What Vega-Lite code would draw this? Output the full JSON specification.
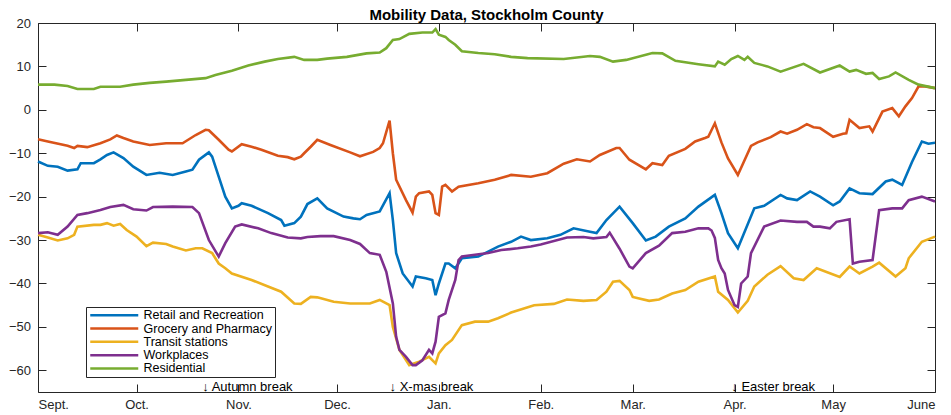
{
"$schema":"https://vega.github.io/schema/vega-lite/v6.json",
"width":897,"height":369,
"autosize":{"type":"none"},
"padding":{"left":38,"top":23,"right":16,"bottom":23},
"background":"white",
"title":{"text":"Mobility Data, Stockholm County","font":"Liberation Sans","fontSize":15,"fontWeight":"bold","color":"#000000","offset":-6,"frame":"group","anchor":"middle"},
"config":{
 "view":{"stroke":"#262626","strokeWidth":1},
 "axis":{"domain":false,"grid":false,"ticks":true,"tickSize":-8,"tickColor":"#262626","tickWidth":1,"labelFont":"Liberation Sans","labelFontSize":13,"labelColor":"#262626","title":null}
},
"datasets":{
"series":[
{"s":"Retail and Recreation","d":"2020-09-01","v":-11.9},{"s":"Retail and Recreation","d":"2020-09-04","v":-12.9},{"s":"Retail and Recreation","d":"2020-09-07","v":-13.1},{"s":"Retail and Recreation","d":"2020-09-10","v":-14.0},{"s":"Retail and Recreation","d":"2020-09-13","v":-13.7},{"s":"Retail and Recreation","d":"2020-09-14","v":-12.3},{"s":"Retail and Recreation","d":"2020-09-18","v":-12.3},{"s":"Retail and Recreation","d":"2020-09-20","v":-11.4},{"s":"Retail and Recreation","d":"2020-09-22","v":-10.4},{"s":"Retail and Recreation","d":"2020-09-24","v":-9.8},{"s":"Retail and Recreation","d":"2020-09-27","v":-11.1},{"s":"Retail and Recreation","d":"2020-09-30","v":-13.1},{"s":"Retail and Recreation","d":"2020-10-04","v":-15.0},{"s":"Retail and Recreation","d":"2020-10-08","v":-14.5},{"s":"Retail and Recreation","d":"2020-10-12","v":-15.0},{"s":"Retail and Recreation","d":"2020-10-16","v":-14.2},{"s":"Retail and Recreation","d":"2020-10-18","v":-13.8},{"s":"Retail and Recreation","d":"2020-10-20","v":-11.5},{"s":"Retail and Recreation","d":"2020-10-23","v":-9.8},{"s":"Retail and Recreation","d":"2020-10-24","v":-10.8},{"s":"Retail and Recreation","d":"2020-10-26","v":-15.4},{"s":"Retail and Recreation","d":"2020-10-28","v":-20.0},{"s":"Retail and Recreation","d":"2020-10-30","v":-22.7},{"s":"Retail and Recreation","d":"2020-11-01","v":-22.1},{"s":"Retail and Recreation","d":"2020-11-02","v":-21.5},{"s":"Retail and Recreation","d":"2020-11-05","v":-22.1},{"s":"Retail and Recreation","d":"2020-11-10","v":-23.8},{"s":"Retail and Recreation","d":"2020-11-14","v":-25.4},{"s":"Retail and Recreation","d":"2020-11-15","v":-26.7},{"s":"Retail and Recreation","d":"2020-11-18","v":-26.1},{"s":"Retail and Recreation","d":"2020-11-20","v":-24.6},{"s":"Retail and Recreation","d":"2020-11-22","v":-21.7},{"s":"Retail and Recreation","d":"2020-11-25","v":-20.4},{"s":"Retail and Recreation","d":"2020-11-28","v":-22.7},{"s":"Retail and Recreation","d":"2020-12-03","v":-24.6},{"s":"Retail and Recreation","d":"2020-12-06","v":-25.0},{"s":"Retail and Recreation","d":"2020-12-08","v":-25.2},{"s":"Retail and Recreation","d":"2020-12-10","v":-24.2},{"s":"Retail and Recreation","d":"2020-12-14","v":-23.4},{"s":"Retail and Recreation","d":"2020-12-17","v":-19.2},{"s":"Retail and Recreation","d":"2020-12-18","v":-25.4},{"s":"Retail and Recreation","d":"2020-12-19","v":-33.0},{"s":"Retail and Recreation","d":"2020-12-21","v":-37.7},{"s":"Retail and Recreation","d":"2020-12-24","v":-40.7},{"s":"Retail and Recreation","d":"2020-12-25","v":-38.4},{"s":"Retail and Recreation","d":"2020-12-28","v":-38.8},{"s":"Retail and Recreation","d":"2020-12-30","v":-39.2},{"s":"Retail and Recreation","d":"2020-12-31","v":-42.7},{"s":"Retail and Recreation","d":"2021-01-01","v":-40.0},{"s":"Retail and Recreation","d":"2021-01-03","v":-35.4},{"s":"Retail and Recreation","d":"2021-01-04","v":-35.4},{"s":"Retail and Recreation","d":"2021-01-06","v":-36.5},{"s":"Retail and Recreation","d":"2021-01-08","v":-34.2},{"s":"Retail and Recreation","d":"2021-01-13","v":-33.8},{"s":"Retail and Recreation","d":"2021-01-19","v":-31.5},{"s":"Retail and Recreation","d":"2021-01-23","v":-30.4},{"s":"Retail and Recreation","d":"2021-01-26","v":-29.2},{"s":"Retail and Recreation","d":"2021-01-29","v":-30.0},{"s":"Retail and Recreation","d":"2021-02-03","v":-29.6},{"s":"Retail and Recreation","d":"2021-02-07","v":-28.8},{"s":"Retail and Recreation","d":"2021-02-11","v":-27.3},{"s":"Retail and Recreation","d":"2021-02-16","v":-28.1},{"s":"Retail and Recreation","d":"2021-02-18","v":-28.4},{"s":"Retail and Recreation","d":"2021-02-21","v":-25.4},{"s":"Retail and Recreation","d":"2021-02-25","v":-22.3},{"s":"Retail and Recreation","d":"2021-03-01","v":-26.1},{"s":"Retail and Recreation","d":"2021-03-05","v":-30.1},{"s":"Retail and Recreation","d":"2021-03-08","v":-29.2},{"s":"Retail and Recreation","d":"2021-03-12","v":-26.9},{"s":"Retail and Recreation","d":"2021-03-17","v":-25.0},{"s":"Retail and Recreation","d":"2021-03-21","v":-22.3},{"s":"Retail and Recreation","d":"2021-03-26","v":-19.6},{"s":"Retail and Recreation","d":"2021-03-28","v":-23.8},{"s":"Retail and Recreation","d":"2021-03-30","v":-28.4},{"s":"Retail and Recreation","d":"2021-04-02","v":-31.9},{"s":"Retail and Recreation","d":"2021-04-07","v":-22.7},{"s":"Retail and Recreation","d":"2021-04-10","v":-22.1},{"s":"Retail and Recreation","d":"2021-04-15","v":-19.6},{"s":"Retail and Recreation","d":"2021-04-17","v":-20.4},{"s":"Retail and Recreation","d":"2021-04-20","v":-20.8},{"s":"Retail and Recreation","d":"2021-04-24","v":-18.8},{"s":"Retail and Recreation","d":"2021-04-27","v":-20.0},{"s":"Retail and Recreation","d":"2021-05-01","v":-22.0},{"s":"Retail and Recreation","d":"2021-05-03","v":-21.1},{"s":"Retail and Recreation","d":"2021-05-06","v":-18.1},{"s":"Retail and Recreation","d":"2021-05-09","v":-19.2},{"s":"Retail and Recreation","d":"2021-05-13","v":-19.4},{"s":"Retail and Recreation","d":"2021-05-17","v":-16.5},{"s":"Retail and Recreation","d":"2021-05-19","v":-16.1},{"s":"Retail and Recreation","d":"2021-05-22","v":-17.3},{"s":"Retail and Recreation","d":"2021-05-25","v":-12.0},{"s":"Retail and Recreation","d":"2021-05-28","v":-7.3},{"s":"Retail and Recreation","d":"2021-05-30","v":-7.8},{"s":"Retail and Recreation","d":"2021-06-01","v":-7.6},
{"s":"Grocery and Pharmacy","d":"2020-09-01","v":-6.8},{"s":"Grocery and Pharmacy","d":"2020-09-04","v":-7.3},{"s":"Grocery and Pharmacy","d":"2020-09-10","v":-8.3},{"s":"Grocery and Pharmacy","d":"2020-09-12","v":-8.8},{"s":"Grocery and Pharmacy","d":"2020-09-13","v":-8.3},{"s":"Grocery and Pharmacy","d":"2020-09-16","v":-8.6},{"s":"Grocery and Pharmacy","d":"2020-09-20","v":-7.7},{"s":"Grocery and Pharmacy","d":"2020-09-23","v":-6.8},{"s":"Grocery and Pharmacy","d":"2020-09-25","v":-5.9},{"s":"Grocery and Pharmacy","d":"2020-09-27","v":-6.5},{"s":"Grocery and Pharmacy","d":"2020-09-30","v":-7.3},{"s":"Grocery and Pharmacy","d":"2020-10-05","v":-8.1},{"s":"Grocery and Pharmacy","d":"2020-10-10","v":-7.7},{"s":"Grocery and Pharmacy","d":"2020-10-15","v":-7.7},{"s":"Grocery and Pharmacy","d":"2020-10-19","v":-5.8},{"s":"Grocery and Pharmacy","d":"2020-10-22","v":-4.6},{"s":"Grocery and Pharmacy","d":"2020-10-23","v":-4.7},{"s":"Grocery and Pharmacy","d":"2020-10-26","v":-6.9},{"s":"Grocery and Pharmacy","d":"2020-10-29","v":-9.2},{"s":"Grocery and Pharmacy","d":"2020-10-30","v":-9.6},{"s":"Grocery and Pharmacy","d":"2020-11-02","v":-7.9},{"s":"Grocery and Pharmacy","d":"2020-11-05","v":-8.5},{"s":"Grocery and Pharmacy","d":"2020-11-08","v":-9.2},{"s":"Grocery and Pharmacy","d":"2020-11-13","v":-10.6},{"s":"Grocery and Pharmacy","d":"2020-11-16","v":-10.9},{"s":"Grocery and Pharmacy","d":"2020-11-18","v":-11.4},{"s":"Grocery and Pharmacy","d":"2020-11-20","v":-10.8},{"s":"Grocery and Pharmacy","d":"2020-11-21","v":-10.0},{"s":"Grocery and Pharmacy","d":"2020-11-23","v":-8.5},{"s":"Grocery and Pharmacy","d":"2020-11-25","v":-6.9},{"s":"Grocery and Pharmacy","d":"2020-11-29","v":-8.1},{"s":"Grocery and Pharmacy","d":"2020-12-05","v":-9.8},{"s":"Grocery and Pharmacy","d":"2020-12-08","v":-10.7},{"s":"Grocery and Pharmacy","d":"2020-12-12","v":-9.7},{"s":"Grocery and Pharmacy","d":"2020-12-14","v":-8.8},{"s":"Grocery and Pharmacy","d":"2020-12-15","v":-7.7},{"s":"Grocery and Pharmacy","d":"2020-12-17","v":-2.5},{"s":"Grocery and Pharmacy","d":"2020-12-18","v":-10.0},{"s":"Grocery and Pharmacy","d":"2020-12-19","v":-16.1},{"s":"Grocery and Pharmacy","d":"2020-12-22","v":-20.8},{"s":"Grocery and Pharmacy","d":"2020-12-24","v":-23.7},{"s":"Grocery and Pharmacy","d":"2020-12-25","v":-20.0},{"s":"Grocery and Pharmacy","d":"2020-12-26","v":-19.2},{"s":"Grocery and Pharmacy","d":"2020-12-29","v":-18.8},{"s":"Grocery and Pharmacy","d":"2020-12-30","v":-19.6},{"s":"Grocery and Pharmacy","d":"2020-12-31","v":-23.8},{"s":"Grocery and Pharmacy","d":"2021-01-01","v":-24.2},{"s":"Grocery and Pharmacy","d":"2021-01-02","v":-17.7},{"s":"Grocery and Pharmacy","d":"2021-01-03","v":-17.3},{"s":"Grocery and Pharmacy","d":"2021-01-05","v":-18.8},{"s":"Grocery and Pharmacy","d":"2021-01-07","v":-17.7},{"s":"Grocery and Pharmacy","d":"2021-01-13","v":-16.9},{"s":"Grocery and Pharmacy","d":"2021-01-18","v":-16.1},{"s":"Grocery and Pharmacy","d":"2021-01-23","v":-15.0},{"s":"Grocery and Pharmacy","d":"2021-01-29","v":-15.4},{"s":"Grocery and Pharmacy","d":"2021-02-03","v":-14.6},{"s":"Grocery and Pharmacy","d":"2021-02-08","v":-12.4},{"s":"Grocery and Pharmacy","d":"2021-02-12","v":-11.4},{"s":"Grocery and Pharmacy","d":"2021-02-16","v":-11.9},{"s":"Grocery and Pharmacy","d":"2021-02-19","v":-10.4},{"s":"Grocery and Pharmacy","d":"2021-02-24","v":-8.8},{"s":"Grocery and Pharmacy","d":"2021-02-25","v":-8.8},{"s":"Grocery and Pharmacy","d":"2021-02-28","v":-11.5},{"s":"Grocery and Pharmacy","d":"2021-03-05","v":-13.7},{"s":"Grocery and Pharmacy","d":"2021-03-07","v":-12.3},{"s":"Grocery and Pharmacy","d":"2021-03-10","v":-12.7},{"s":"Grocery and Pharmacy","d":"2021-03-12","v":-10.6},{"s":"Grocery and Pharmacy","d":"2021-03-17","v":-9.0},{"s":"Grocery and Pharmacy","d":"2021-03-20","v":-7.3},{"s":"Grocery and Pharmacy","d":"2021-03-23","v":-6.5},{"s":"Grocery and Pharmacy","d":"2021-03-24","v":-6.2},{"s":"Grocery and Pharmacy","d":"2021-03-26","v":-3.1},{"s":"Grocery and Pharmacy","d":"2021-03-28","v":-7.5},{"s":"Grocery and Pharmacy","d":"2021-03-30","v":-11.2},{"s":"Grocery and Pharmacy","d":"2021-04-02","v":-15.0},{"s":"Grocery and Pharmacy","d":"2021-04-06","v":-8.3},{"s":"Grocery and Pharmacy","d":"2021-04-08","v":-7.5},{"s":"Grocery and Pharmacy","d":"2021-04-12","v":-6.3},{"s":"Grocery and Pharmacy","d":"2021-04-15","v":-5.0},{"s":"Grocery and Pharmacy","d":"2021-04-17","v":-5.5},{"s":"Grocery and Pharmacy","d":"2021-04-20","v":-4.6},{"s":"Grocery and Pharmacy","d":"2021-04-23","v":-3.3},{"s":"Grocery and Pharmacy","d":"2021-04-25","v":-4.0},{"s":"Grocery and Pharmacy","d":"2021-04-27","v":-4.2},{"s":"Grocery and Pharmacy","d":"2021-05-01","v":-6.2},{"s":"Grocery and Pharmacy","d":"2021-05-04","v":-5.5},{"s":"Grocery and Pharmacy","d":"2021-05-05","v":-5.4},{"s":"Grocery and Pharmacy","d":"2021-05-06","v":-2.3},{"s":"Grocery and Pharmacy","d":"2021-05-09","v":-4.2},{"s":"Grocery and Pharmacy","d":"2021-05-12","v":-3.8},{"s":"Grocery and Pharmacy","d":"2021-05-13","v":-5.0},{"s":"Grocery and Pharmacy","d":"2021-05-16","v":-0.4},{"s":"Grocery and Pharmacy","d":"2021-05-19","v":0.4},{"s":"Grocery and Pharmacy","d":"2021-05-21","v":-1.5},{"s":"Grocery and Pharmacy","d":"2021-05-23","v":0.8},{"s":"Grocery and Pharmacy","d":"2021-05-25","v":2.7},{"s":"Grocery and Pharmacy","d":"2021-05-27","v":5.4},{"s":"Grocery and Pharmacy","d":"2021-05-29","v":5.4},{"s":"Grocery and Pharmacy","d":"2021-06-01","v":5.0},
{"s":"Transit stations","d":"2020-09-01","v":-28.8},{"s":"Transit stations","d":"2020-09-04","v":-29.4},{"s":"Transit stations","d":"2020-09-07","v":-30.1},{"s":"Transit stations","d":"2020-09-10","v":-29.6},{"s":"Transit stations","d":"2020-09-12","v":-28.8},{"s":"Transit stations","d":"2020-09-13","v":-26.9},{"s":"Transit stations","d":"2020-09-18","v":-26.5},{"s":"Transit stations","d":"2020-09-20","v":-26.5},{"s":"Transit stations","d":"2020-09-22","v":-26.1},{"s":"Transit stations","d":"2020-09-24","v":-26.7},{"s":"Transit stations","d":"2020-09-26","v":-26.3},{"s":"Transit stations","d":"2020-09-28","v":-27.7},{"s":"Transit stations","d":"2020-10-01","v":-29.2},{"s":"Transit stations","d":"2020-10-04","v":-31.4},{"s":"Transit stations","d":"2020-10-06","v":-30.6},{"s":"Transit stations","d":"2020-10-10","v":-30.9},{"s":"Transit stations","d":"2020-10-12","v":-31.5},{"s":"Transit stations","d":"2020-10-16","v":-32.4},{"s":"Transit stations","d":"2020-10-19","v":-31.9},{"s":"Transit stations","d":"2020-10-21","v":-31.9},{"s":"Transit stations","d":"2020-10-24","v":-33.0},{"s":"Transit stations","d":"2020-10-26","v":-35.4},{"s":"Transit stations","d":"2020-10-28","v":-36.5},{"s":"Transit stations","d":"2020-10-30","v":-37.7},{"s":"Transit stations","d":"2020-11-05","v":-39.2},{"s":"Transit stations","d":"2020-11-10","v":-40.7},{"s":"Transit stations","d":"2020-11-14","v":-41.9},{"s":"Transit stations","d":"2020-11-18","v":-44.6},{"s":"Transit stations","d":"2020-11-20","v":-44.7},{"s":"Transit stations","d":"2020-11-23","v":-43.1},{"s":"Transit stations","d":"2020-11-25","v":-43.2},{"s":"Transit stations","d":"2020-11-30","v":-44.2},{"s":"Transit stations","d":"2020-12-05","v":-44.6},{"s":"Transit stations","d":"2020-12-11","v":-44.6},{"s":"Transit stations","d":"2020-12-14","v":-43.8},{"s":"Transit stations","d":"2020-12-17","v":-45.0},{"s":"Transit stations","d":"2020-12-18","v":-50.0},{"s":"Transit stations","d":"2020-12-20","v":-55.3},{"s":"Transit stations","d":"2020-12-23","v":-58.8},{"s":"Transit stations","d":"2020-12-26","v":-58.0},{"s":"Transit stations","d":"2020-12-29","v":-56.9},{"s":"Transit stations","d":"2020-12-31","v":-58.4},{"s":"Transit stations","d":"2021-01-01","v":-56.1},{"s":"Transit stations","d":"2021-01-03","v":-54.2},{"s":"Transit stations","d":"2021-01-05","v":-53.0},{"s":"Transit stations","d":"2021-01-08","v":-49.6},{"s":"Transit stations","d":"2021-01-12","v":-48.8},{"s":"Transit stations","d":"2021-01-16","v":-48.8},{"s":"Transit stations","d":"2021-01-19","v":-48.0},{"s":"Transit stations","d":"2021-01-23","v":-46.7},{"s":"Transit stations","d":"2021-01-30","v":-45.0},{"s":"Transit stations","d":"2021-02-05","v":-44.7},{"s":"Transit stations","d":"2021-02-09","v":-43.7},{"s":"Transit stations","d":"2021-02-14","v":-44.0},{"s":"Transit stations","d":"2021-02-18","v":-43.8},{"s":"Transit stations","d":"2021-02-21","v":-41.9},{"s":"Transit stations","d":"2021-02-23","v":-39.6},{"s":"Transit stations","d":"2021-02-25","v":-39.4},{"s":"Transit stations","d":"2021-02-28","v":-41.5},{"s":"Transit stations","d":"2021-03-01","v":-43.1},{"s":"Transit stations","d":"2021-03-06","v":-44.0},{"s":"Transit stations","d":"2021-03-09","v":-43.7},{"s":"Transit stations","d":"2021-03-13","v":-42.3},{"s":"Transit stations","d":"2021-03-17","v":-41.5},{"s":"Transit stations","d":"2021-03-21","v":-39.6},{"s":"Transit stations","d":"2021-03-26","v":-38.4},{"s":"Transit stations","d":"2021-03-27","v":-41.9},{"s":"Transit stations","d":"2021-03-30","v":-43.8},{"s":"Transit stations","d":"2021-04-02","v":-46.7},{"s":"Transit stations","d":"2021-04-05","v":-44.0},{"s":"Transit stations","d":"2021-04-07","v":-40.7},{"s":"Transit stations","d":"2021-04-11","v":-38.0},{"s":"Transit stations","d":"2021-04-15","v":-36.0},{"s":"Transit stations","d":"2021-04-19","v":-38.8},{"s":"Transit stations","d":"2021-04-22","v":-39.2},{"s":"Transit stations","d":"2021-04-26","v":-36.5},{"s":"Transit stations","d":"2021-05-03","v":-38.5},{"s":"Transit stations","d":"2021-05-06","v":-36.1},{"s":"Transit stations","d":"2021-05-09","v":-37.7},{"s":"Transit stations","d":"2021-05-13","v":-36.1},{"s":"Transit stations","d":"2021-05-15","v":-35.2},{"s":"Transit stations","d":"2021-05-20","v":-38.4},{"s":"Transit stations","d":"2021-05-23","v":-36.5},{"s":"Transit stations","d":"2021-05-24","v":-34.2},{"s":"Transit stations","d":"2021-05-28","v":-30.4},{"s":"Transit stations","d":"2021-06-01","v":-29.2},
{"s":"Workplaces","d":"2020-09-01","v":-28.4},{"s":"Workplaces","d":"2020-09-04","v":-28.2},{"s":"Workplaces","d":"2020-09-07","v":-28.8},{"s":"Workplaces","d":"2020-09-10","v":-26.9},{"s":"Workplaces","d":"2020-09-13","v":-24.2},{"s":"Workplaces","d":"2020-09-16","v":-23.8},{"s":"Workplaces","d":"2020-09-20","v":-23.1},{"s":"Workplaces","d":"2020-09-23","v":-22.4},{"s":"Workplaces","d":"2020-09-27","v":-21.9},{"s":"Workplaces","d":"2020-09-30","v":-22.9},{"s":"Workplaces","d":"2020-10-04","v":-23.2},{"s":"Workplaces","d":"2020-10-06","v":-22.4},{"s":"Workplaces","d":"2020-10-12","v":-22.3},{"s":"Workplaces","d":"2020-10-18","v":-22.4},{"s":"Workplaces","d":"2020-10-20","v":-23.8},{"s":"Workplaces","d":"2020-10-23","v":-30.0},{"s":"Workplaces","d":"2020-10-26","v":-33.8},{"s":"Workplaces","d":"2020-10-28","v":-30.7},{"s":"Workplaces","d":"2020-10-31","v":-26.9},{"s":"Workplaces","d":"2020-11-02","v":-26.4},{"s":"Workplaces","d":"2020-11-07","v":-27.3},{"s":"Workplaces","d":"2020-11-11","v":-28.4},{"s":"Workplaces","d":"2020-11-16","v":-29.4},{"s":"Workplaces","d":"2020-11-20","v":-29.6},{"s":"Workplaces","d":"2020-11-22","v":-29.3},{"s":"Workplaces","d":"2020-11-26","v":-29.1},{"s":"Workplaces","d":"2020-11-30","v":-29.1},{"s":"Workplaces","d":"2020-12-05","v":-30.0},{"s":"Workplaces","d":"2020-12-08","v":-30.9},{"s":"Workplaces","d":"2020-12-11","v":-33.0},{"s":"Workplaces","d":"2020-12-14","v":-33.4},{"s":"Workplaces","d":"2020-12-16","v":-37.3},{"s":"Workplaces","d":"2020-12-18","v":-44.6},{"s":"Workplaces","d":"2020-12-19","v":-52.3},{"s":"Workplaces","d":"2020-12-20","v":-55.3},{"s":"Workplaces","d":"2020-12-22","v":-56.9},{"s":"Workplaces","d":"2020-12-24","v":-58.8},{"s":"Workplaces","d":"2020-12-25","v":-58.8},{"s":"Workplaces","d":"2020-12-27","v":-57.7},{"s":"Workplaces","d":"2020-12-29","v":-55.3},{"s":"Workplaces","d":"2020-12-30","v":-56.1},{"s":"Workplaces","d":"2020-12-31","v":-53.4},{"s":"Workplaces","d":"2021-01-01","v":-47.7},{"s":"Workplaces","d":"2021-01-03","v":-46.9},{"s":"Workplaces","d":"2021-01-04","v":-43.8},{"s":"Workplaces","d":"2021-01-06","v":-39.2},{"s":"Workplaces","d":"2021-01-07","v":-34.6},{"s":"Workplaces","d":"2021-01-08","v":-33.8},{"s":"Workplaces","d":"2021-01-12","v":-33.4},{"s":"Workplaces","d":"2021-01-16","v":-33.0},{"s":"Workplaces","d":"2021-01-20","v":-32.3},{"s":"Workplaces","d":"2021-01-25","v":-31.9},{"s":"Workplaces","d":"2021-01-29","v":-31.5},{"s":"Workplaces","d":"2021-02-01","v":-31.0},{"s":"Workplaces","d":"2021-02-09","v":-29.4},{"s":"Workplaces","d":"2021-02-14","v":-29.3},{"s":"Workplaces","d":"2021-02-17","v":-29.6},{"s":"Workplaces","d":"2021-02-21","v":-29.3},{"s":"Workplaces","d":"2021-02-22","v":-28.3},{"s":"Workplaces","d":"2021-02-25","v":-32.0},{"s":"Workplaces","d":"2021-02-28","v":-36.1},{"s":"Workplaces","d":"2021-03-01","v":-36.5},{"s":"Workplaces","d":"2021-03-05","v":-33.0},{"s":"Workplaces","d":"2021-03-09","v":-31.3},{"s":"Workplaces","d":"2021-03-13","v":-28.4},{"s":"Workplaces","d":"2021-03-17","v":-28.1},{"s":"Workplaces","d":"2021-03-21","v":-27.3},{"s":"Workplaces","d":"2021-03-24","v":-27.3},{"s":"Workplaces","d":"2021-03-25","v":-27.8},{"s":"Workplaces","d":"2021-03-26","v":-29.5},{"s":"Workplaces","d":"2021-03-27","v":-34.6},{"s":"Workplaces","d":"2021-03-28","v":-36.5},{"s":"Workplaces","d":"2021-03-29","v":-37.7},{"s":"Workplaces","d":"2021-03-30","v":-41.5},{"s":"Workplaces","d":"2021-04-01","v":-45.0},{"s":"Workplaces","d":"2021-04-02","v":-45.4},{"s":"Workplaces","d":"2021-04-03","v":-40.0},{"s":"Workplaces","d":"2021-04-05","v":-38.4},{"s":"Workplaces","d":"2021-04-06","v":-33.0},{"s":"Workplaces","d":"2021-04-10","v":-26.9},{"s":"Workplaces","d":"2021-04-15","v":-25.5},{"s":"Workplaces","d":"2021-04-20","v":-25.8},{"s":"Workplaces","d":"2021-04-23","v":-25.8},{"s":"Workplaces","d":"2021-04-25","v":-26.9},{"s":"Workplaces","d":"2021-04-27","v":-26.9},{"s":"Workplaces","d":"2021-04-30","v":-27.3},{"s":"Workplaces","d":"2021-05-02","v":-25.8},{"s":"Workplaces","d":"2021-05-06","v":-25.2},{"s":"Workplaces","d":"2021-05-07","v":-35.4},{"s":"Workplaces","d":"2021-05-09","v":-35.0},{"s":"Workplaces","d":"2021-05-13","v":-34.6},{"s":"Workplaces","d":"2021-05-15","v":-23.1},{"s":"Workplaces","d":"2021-05-19","v":-22.7},{"s":"Workplaces","d":"2021-05-22","v":-22.7},{"s":"Workplaces","d":"2021-05-24","v":-20.8},{"s":"Workplaces","d":"2021-05-28","v":-20.0},{"s":"Workplaces","d":"2021-06-01","v":-21.1},
{"s":"Residential","d":"2020-09-01","v":5.8},{"s":"Residential","d":"2020-09-06","v":5.8},{"s":"Residential","d":"2020-09-10","v":5.5},{"s":"Residential","d":"2020-09-13","v":4.8},{"s":"Residential","d":"2020-09-18","v":4.8},{"s":"Residential","d":"2020-09-20","v":5.3},{"s":"Residential","d":"2020-09-26","v":5.3},{"s":"Residential","d":"2020-09-30","v":5.8},{"s":"Residential","d":"2020-10-05","v":6.2},{"s":"Residential","d":"2020-10-10","v":6.5},{"s":"Residential","d":"2020-10-16","v":6.9},{"s":"Residential","d":"2020-10-22","v":7.3},{"s":"Residential","d":"2020-10-25","v":8.0},{"s":"Residential","d":"2020-10-30","v":9.0},{"s":"Residential","d":"2020-11-04","v":10.2},{"s":"Residential","d":"2020-11-09","v":11.1},{"s":"Residential","d":"2020-11-13","v":11.7},{"s":"Residential","d":"2020-11-18","v":12.2},{"s":"Residential","d":"2020-11-21","v":11.5},{"s":"Residential","d":"2020-11-25","v":11.5},{"s":"Residential","d":"2020-11-28","v":11.8},{"s":"Residential","d":"2020-12-04","v":12.2},{"s":"Residential","d":"2020-12-10","v":13.0},{"s":"Residential","d":"2020-12-14","v":13.2},{"s":"Residential","d":"2020-12-16","v":14.2},{"s":"Residential","d":"2020-12-18","v":16.1},{"s":"Residential","d":"2020-12-20","v":16.3},{"s":"Residential","d":"2020-12-23","v":17.5},{"s":"Residential","d":"2020-12-27","v":17.8},{"s":"Residential","d":"2020-12-30","v":17.8},{"s":"Residential","d":"2020-12-31","v":18.6},{"s":"Residential","d":"2021-01-01","v":17.3},{"s":"Residential","d":"2021-01-03","v":16.8},{"s":"Residential","d":"2021-01-04","v":16.1},{"s":"Residential","d":"2021-01-06","v":15.0},{"s":"Residential","d":"2021-01-08","v":13.5},{"s":"Residential","d":"2021-01-13","v":13.1},{"s":"Residential","d":"2021-01-18","v":12.8},{"s":"Residential","d":"2021-01-23","v":12.2},{"s":"Residential","d":"2021-01-28","v":11.9},{"s":"Residential","d":"2021-02-08","v":11.7},{"s":"Residential","d":"2021-02-16","v":12.4},{"s":"Residential","d":"2021-02-19","v":12.2},{"s":"Residential","d":"2021-02-23","v":11.1},{"s":"Residential","d":"2021-02-27","v":11.5},{"s":"Residential","d":"2021-03-07","v":13.1},{"s":"Residential","d":"2021-03-10","v":13.0},{"s":"Residential","d":"2021-03-14","v":11.3},{"s":"Residential","d":"2021-03-21","v":10.5},{"s":"Residential","d":"2021-03-26","v":10.0},{"s":"Residential","d":"2021-03-27","v":11.1},{"s":"Residential","d":"2021-03-29","v":10.4},{"s":"Residential","d":"2021-03-31","v":11.7},{"s":"Residential","d":"2021-04-02","v":12.4},{"s":"Residential","d":"2021-04-04","v":11.5},{"s":"Residential","d":"2021-04-05","v":12.2},{"s":"Residential","d":"2021-04-07","v":10.8},{"s":"Residential","d":"2021-04-11","v":10.0},{"s":"Residential","d":"2021-04-15","v":8.8},{"s":"Residential","d":"2021-04-22","v":10.6},{"s":"Residential","d":"2021-04-27","v":8.6},{"s":"Residential","d":"2021-05-03","v":10.2},{"s":"Residential","d":"2021-05-06","v":8.8},{"s":"Residential","d":"2021-05-08","v":9.2},{"s":"Residential","d":"2021-05-11","v":8.3},{"s":"Residential","d":"2021-05-13","v":8.5},{"s":"Residential","d":"2021-05-15","v":7.1},{"s":"Residential","d":"2021-05-18","v":7.7},{"s":"Residential","d":"2021-05-20","v":8.6},{"s":"Residential","d":"2021-05-24","v":6.9},{"s":"Residential","d":"2021-05-27","v":5.8},{"s":"Residential","d":"2021-06-01","v":5.0}
],
"notes":[
{"d":"2020-10-21","v":-63.9,"label":"↓ Autumn break"},
{"d":"2020-12-17","v":-63.9,"label":"↓ X-mas break"},
{"d":"2021-03-31","v":-63.9,"label":"↓ Easter break"}
]
},
"layer":[
{
 "data":{"name":"series"},
 "mark":{"type":"line","strokeWidth":2.6},
 "encoding":{
  "x":{"field":"d","type":"temporal","scale":{"type":"utc","domain":[{"year":2020,"month":9,"date":1,"utc":true},{"year":2021,"month":6,"date":1,"utc":true}]},
   "axis":{"orient":"bottom","labelPadding":14.5,
    "values":[{"year":2020,"month":9,"date":1,"utc":true},{"year":2020,"month":10,"date":1,"utc":true},{"year":2020,"month":11,"date":1,"utc":true},{"year":2020,"month":12,"date":1,"utc":true},{"year":2021,"month":1,"date":1,"utc":true},{"year":2021,"month":2,"date":1,"utc":true},{"year":2021,"month":3,"date":1,"utc":true},{"year":2021,"month":4,"date":1,"utc":true},{"year":2021,"month":5,"date":1,"utc":true},{"year":2021,"month":6,"date":1,"utc":true}],
    "labelExpr":"['Jan.','Feb.','Mar.','Apr.','May','June','July','Aug.','Sept.','Oct.','Nov.','Dec.'][utcmonth(datum.value)]"}},
  "y":{"field":"v","type":"quantitative","scale":{"domain":[-65,20],"nice":false,"zero":false},
   "axis":{"orient":"left","labelPadding":15.5,"values":[-60,-50,-40,-30,-20,-10,0,10,20]}},
  "color":{"field":"s","type":"nominal",
   "scale":{"domain":["Retail and Recreation","Grocery and Pharmacy","Transit stations","Workplaces","Residential"],"range":["#0072BD","#D95319","#EDB120","#7E2F8E","#77AC30"]},
   "legend":{"orient":"none","legendX":48,"legendY":284,"title":null,"symbolType":"M-8,0H8","symbolSize":36,"symbolStrokeWidth":2.5,"symbolOffset":20,"labelOffset":23,"labelFont":"Liberation Sans","labelFontSize":12.5,"labelColor":"#000000","rowPadding":0.3,"padding":2,"strokeColor":"#262626","fillColor":"#ffffff"}}
 }
},
{
 "data":{"name":"notes"},
 "mark":{"type":"text","align":"left","baseline":"middle","font":"Liberation Sans","fontSize":13,"color":"#000000"},
 "encoding":{
  "x":{"field":"d","type":"temporal","scale":{"type":"utc","domain":[{"year":2020,"month":9,"date":1,"utc":true},{"year":2021,"month":6,"date":1,"utc":true}]},
   "axis":{"orient":"top","labels":false,
    "values":[{"year":2020,"month":9,"date":1,"utc":true},{"year":2020,"month":10,"date":1,"utc":true},{"year":2020,"month":11,"date":1,"utc":true},{"year":2020,"month":12,"date":1,"utc":true},{"year":2021,"month":1,"date":1,"utc":true},{"year":2021,"month":2,"date":1,"utc":true},{"year":2021,"month":3,"date":1,"utc":true},{"year":2021,"month":4,"date":1,"utc":true},{"year":2021,"month":5,"date":1,"utc":true},{"year":2021,"month":6,"date":1,"utc":true}]}},
  "y":{"field":"v","type":"quantitative","scale":{"domain":[-65,20],"nice":false,"zero":false},
   "axis":{"orient":"right","labels":false,"values":[-60,-50,-40,-30,-20,-10,0,10,20]}},
  "text":{"field":"label","type":"nominal"}
 }
}
],
"resolve":{"scale":{"x":"independent","y":"independent"},"axis":{"x":"independent","y":"independent"}}
}
